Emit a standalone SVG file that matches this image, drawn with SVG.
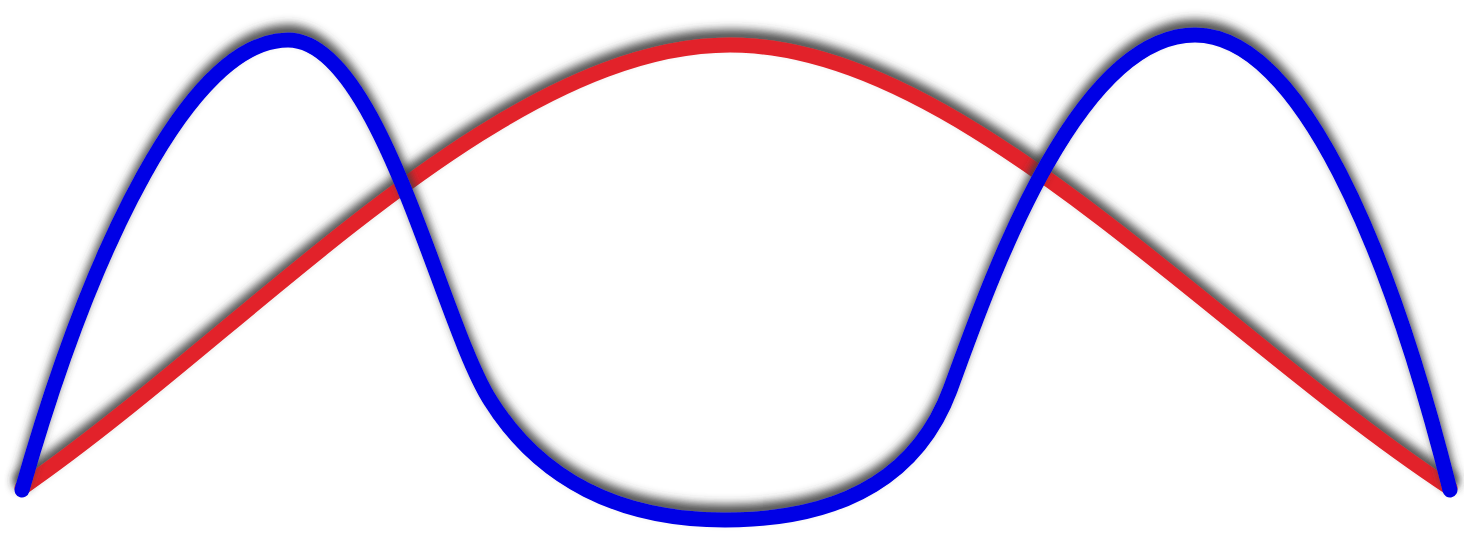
<svg xmlns="http://www.w3.org/2000/svg" width="1464" height="543" viewBox="0 0 1464 543">
  <defs>
    <filter id="shadow" x="-10%" y="-20%" width="120%" height="140%">
      <feGaussianBlur in="SourceAlpha" stdDeviation="5" result="b"/>
      <feOffset in="b" dx="0" dy="-8" result="o"/>
      <feFlood flood-color="#3a3a3a" flood-opacity="0.9"/>
      <feComposite in2="o" operator="in" result="s"/>
      <feMerge>
        <feMergeNode in="s"/>
        <feMergeNode in="SourceGraphic"/>
      </feMerge>
    </filter>
  </defs>
  <style>
    .curve { fill: none; stroke-width: 15; stroke-linecap: round; stroke-linejoin: round; filter: url(#shadow); }
    .red { stroke: #e2222a; }
    .blue { stroke: #0000e6; }
  </style>
  <rect width="1464" height="543" fill="#ffffff"/>
  <g id="red-curve">
    <path class="curve red" d="M22,488 C250,330 500,45 730,45 C960,45 1210,330 1450,488"/>
  </g>
  <g id="blue-curve">
    <path class="curve blue" d="M22,490 C90,250 190,40 288,40 C380,40 440,320 490,400 C540,480 620,520 725,520 C850,520 920,470 950,390 C980,310 1070,35 1195,35 C1300,35 1390,250 1450,490"/>
  </g>
</svg>
